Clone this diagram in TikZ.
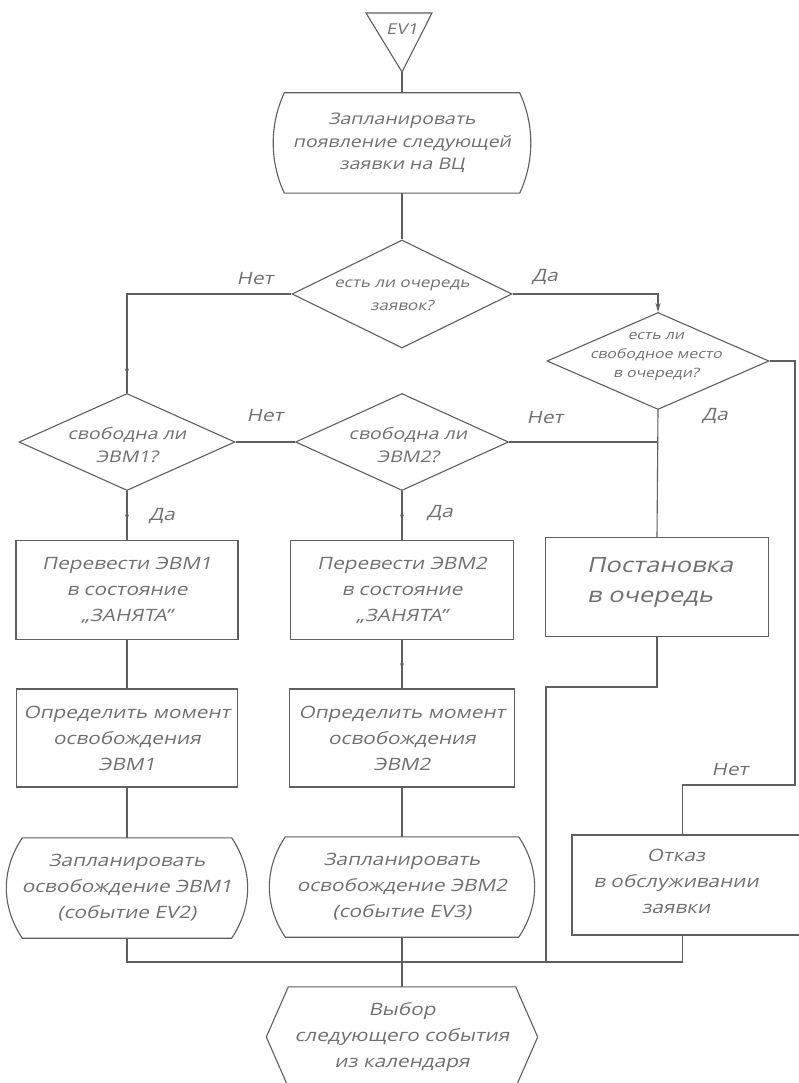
\documentclass[tikz,border=0pt]{standalone}
\usepackage{fontspec}
\setmainfont{Open Sans}[FakeSlant=0.22,FakeStretch=1.22]
\usetikzlibrary{shapes.geometric,arrows.meta,decorations.markings}
\definecolor{ink}{RGB}{95,95,95}
\definecolor{txt}{RGB}{112,112,112}
\newcommand\termline[3]{%
  \draw[line] ([xshift=#2pt]#1.north west) -- ([xshift=-#2pt]#1.north east)
    .. controls ([xshift=#3pt,yshift=-32pt]#1.north east) and ([xshift=#3pt,yshift=32pt]#1.south east) .. ([xshift=-#2pt]#1.south east)
    -- ([xshift=#2pt]#1.south west)
    .. controls ([xshift=-#3pt,yshift=32pt]#1.south west) and ([xshift=-#3pt,yshift=-32pt]#1.north west) .. cycle;}
\begin{document}
\begin{tikzpicture}[x=1pt,y=-1pt,
  line/.style={draw=ink,line width=1.1pt},
  box/.style={line,rectangle,inner sep=0pt,align=center,text=txt},
  frame/.style={rectangle,inner sep=0pt,align=center,text=txt},
  dia/.style={line,diamond,inner sep=0pt},
  tx/.style={text=txt,inner sep=0pt,align=center},
  lbl/.style={text=txt,inner sep=0pt,font=\fontsize{17}{20}\selectfont},
  midarrow/.style={postaction={decorate,decoration={markings,mark=at position #1 with {\arrow[ink]{Stealth[length=6pt,width=4pt]}}}}},
  font=\fontsize{17}{26}\selectfont
]
\useasboundingbox (0,0) rectangle (798,1083);
\fill[white] (0,0) rectangle (798,1083);

% start triangle
\coordinate (t1) at (366,13);
\coordinate (t2) at (432,13);
\coordinate (ev1) at (402,72);
\draw[line] (t1) -- (t2) -- (ev1) -- cycle;
\node[tx,font=\fontsize{15}{18}\selectfont] (ev1t) at (402,29) {EV1};

% nodes
\node[frame,minimum width=257,minimum height=100,font=\fontsize{16}{22.5}\selectfont] (A) at (402,143) {Запланировать\\появление следующей\\заявки на ВЦ};
\termline{A}{11}{3.8}

\node[dia,minimum width=220,minimum height=108] (D1) at (402,294) {};
\node[tx,font=\fontsize{14}{23}\selectfont] (D1t) at (402,295) {есть ли очередь\\заявок?};

\node[dia,minimum width=222,minimum height=97] (D3) at (658,361) {};
\node[tx,font=\fontsize{13}{19}\selectfont] (D3t) at (656,357) {есть ли\\свободное место\\в очереди?};

\node[dia,minimum width=216,minimum height=97] (D2) at (127,442) {};
\node[tx,font=\fontsize{16}{23}\selectfont] (D2t) at (127,445) {свободна ли\\ЭВМ1?};

\node[dia,minimum width=213,minimum height=97] (D4) at (402,442) {};
\node[tx,font=\fontsize{16}{23}\selectfont] (D4t) at (408,445) {свободна ли\\ЭВМ2?};

\node[box,minimum width=222,minimum height=99] (B1) at (127,590) {Перевести ЭВМ1\\в состояние\\„ЗАНЯТА”};
\node[box,minimum width=223,minimum height=99] (B2) at (402,590) {Перевести ЭВМ2\\в состояние\\„ЗАНЯТА”};
\node[box,minimum width=223,minimum height=99] (Q) at (657,587) {};
\node[tx,align=left,font=\fontsize{21}{30}\selectfont] (Qt) at (660,583) {Постановка\\в очередь};

\node[box,minimum width=221,minimum height=98] (C1) at (127,738) {Определить момент\\освобождения\\ЭВМ1};
\node[box,minimum width=225,minimum height=98] (C2) at (402,738) {Определить момент\\освобождения\\ЭВМ2};

\node[frame,minimum width=241,minimum height=100] (E1) at (127,888) {Запланировать\\освобождение ЭВМ1\\(событие EV2)};
\termline{E1}{16}{5.3}
\node[frame,minimum width=265,minimum height=100] (E2) at (402,887) {Запланировать\\освобождение ЭВМ2\\(событие EV3)};
\termline{E2}{16}{5.3}

\node[box,minimum width=230,minimum height=100] (R) at (687,885) {};
\node[tx] (Rt) at (676,881) {Отказ\\в обслуживании\\заявки};

\node[frame,minimum width=271,minimum height=100] (H) at (402,1037) {Выбор\\следующего события\\из календаря};
\draw[line] ([xshift=22pt]H.north west) -- ([xshift=-22pt]H.north east) -- (H.east)
  -- ([xshift=-22pt]H.south east) -- ([xshift=22pt]H.south west) -- (H.west) -- cycle;

% helper coordinates
\coordinate (rc) at (795,785);
\coordinate (rn) at ([xshift=111pt]R.north west);
\coordinate (rs) at ([xshift=111pt]R.south west);
\coordinate (qb) at (546,687);
\coordinate (jq) at (546,962);

% connectors
\draw[line] (ev1) -- (A.north);
\draw[line] (A.south) -- (D1.north);
\draw[line,midarrow=0.93] (D1.west) -| (D2.north);
\draw[line,-{Stealth[length=9pt,width=5pt]}] (D1.east) -| (D3.north);
\draw[line] (D2.east) -- (D4.west);
\draw[line] (D4.east) -- (D4.east -| Q.north);
\draw[line] (D3.south) -- (Q.north);
\draw[line] (D3.east) -- (D3.east -| rc) -- (rc) -| (rn);
\draw[line,midarrow=0.6] (D2.south) -- (B1.north);
\draw[line,midarrow=0.6] (D4.south) -- (B2.north);
\draw[line] (B1.south) -- (C1.north);
\draw[line,midarrow=0.6] (B2.south) -- (C2.north);
\draw[line] (C1.south) -- (E1.north);
\draw[line] (C2.south) -- (E2.north);
\draw[line] (Q.south) |- (qb) -- (jq);
\draw[line] (E1.south) |- (rs |- jq) -- (rs);
\draw[line] (E2.south) -- (H.north);

% labels
\node[lbl] (l1) at (255,279) {Нет};
\node[lbl] (l2) at (545,277) {Да};
\node[lbl] (l3) at (265,416) {Нет};
\node[lbl] (l4) at (545,418) {Нет};
\node[lbl] (l5) at (715,416) {Да};
\node[lbl] (l6) at (162,516) {Да};
\node[lbl] (l7) at (440,513) {Да};
\node[lbl] (l8) at (730,770) {Нет};
\end{tikzpicture}
\end{document}
